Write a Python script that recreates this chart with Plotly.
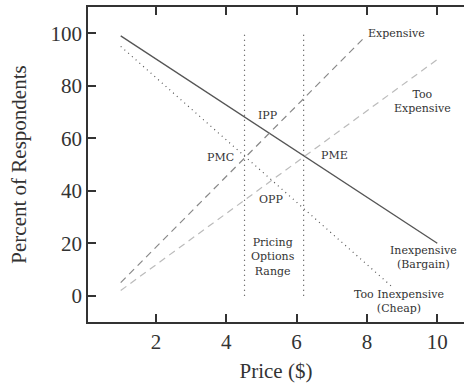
import plotly.graph_objects as go

# --- data ---
inexpensive_x = [1, 10]
inexpensive_y = [99, 20]
too_inexpensive_x = [1, 8.75]
too_inexpensive_y = [95, 3]
expensive_x = [1, 7.9]
expensive_y = [5, 98]
too_expensive_x = [1, 10]
too_expensive_y = [2, 90]

range_bounds = [4.52, 6.2]     # Pricing options range (PMC, PME prices)
range_span = [0, 100]

x_ticks = [2, 4, 6, 8, 10]
y_ticks = [0, 20, 40, 60, 80, 100]

label_text = ["Expensive", "Too<br>Expensive", "IPP", "PMC", "PME", "OPP",
              "Pricing<br>Options<br>Range", "Inexpensive<br>(Bargain)",
              "Too Inexpensive<br>(Cheap)"]
label_x = [8.84, 9.57, 5.18, 3.84, 7.09, 5.26, 5.32, 9.6, 8.9]
label_y = [100, 74, 68.8, 52.7, 53.4, 36.7, 14.9, 14.6, -2.1]

SERIF = "Liberation Serif, DejaVu Serif, serif"
SMALL = "DejaVu Serif, Liberation Serif, serif"
INK = "#333333"

fig = go.Figure()
fig.add_trace(go.Scatter(x=inexpensive_x, y=inexpensive_y, mode="lines",
                         line=dict(color="#555555", width=1.3), showlegend=False))
fig.add_trace(go.Scatter(x=too_inexpensive_x, y=too_inexpensive_y, mode="lines",
                         line=dict(color="#555555", width=1.2, dash="1px,4px"), showlegend=False))
fig.add_trace(go.Scatter(x=expensive_x, y=expensive_y, mode="lines",
                         line=dict(color="#888888", width=1.2, dash="7px,5px"), showlegend=False))
fig.add_trace(go.Scatter(x=too_expensive_x, y=too_expensive_y, mode="lines",
                         line=dict(color="#bbbbbb", width=1.2, dash="7px,5px"), showlegend=False))
for xb in range_bounds:
    fig.add_trace(go.Scatter(x=[xb, xb], y=range_span, mode="lines",
                             line=dict(color="#444444", width=1.2, dash="1px,4px"),
                             showlegend=False))

for t, x, y in zip(label_text, label_x, label_y):
    fig.add_annotation(x=x, y=y, text=t, showarrow=False,
                       font=dict(family=SMALL, size=11, color=INK),
                       xanchor="center", yanchor="middle", align="center")

fig.update_layout(
    width=464, height=383,
    margin=dict(l=88, r=0, t=7, b=61),
    paper_bgcolor="white", plot_bgcolor="white",
    showlegend=False,
    xaxis=dict(range=[0.07, 10.76], tickvals=x_ticks, showgrid=False, zeroline=False,
               showline=True, linecolor=INK, linewidth=1.5, mirror="ticks",
               ticks="inside", ticklen=8, tickwidth=1.5, tickcolor=INK,
               tickfont=dict(family=SERIF, size=21, color=INK),
               title=dict(text="Price ($)", font=dict(family=SERIF, size=21, color=INK),
                          standoff=12)),
    yaxis=dict(range=[-10, 110], tickvals=y_ticks, showgrid=False, zeroline=False,
               showline=True, linecolor=INK, linewidth=1.5, mirror=False,
               ticks="inside", ticklen=8, tickwidth=1.5, tickcolor=INK,
               tickfont=dict(family=SERIF, size=21, color=INK),
               title=dict(text="Percent of Respondents",
                          font=dict(family=SERIF, size=21, color=INK), standoff=18)),
    yaxis2=dict(range=[-10, 110], tickvals=y_ticks, overlaying="y", side="right",
                showgrid=False, zeroline=False, showline=False, showticklabels=False,
                ticks="inside", ticklen=3, tickwidth=1.5, tickcolor=INK),
)

fig.write_html("out.html")
